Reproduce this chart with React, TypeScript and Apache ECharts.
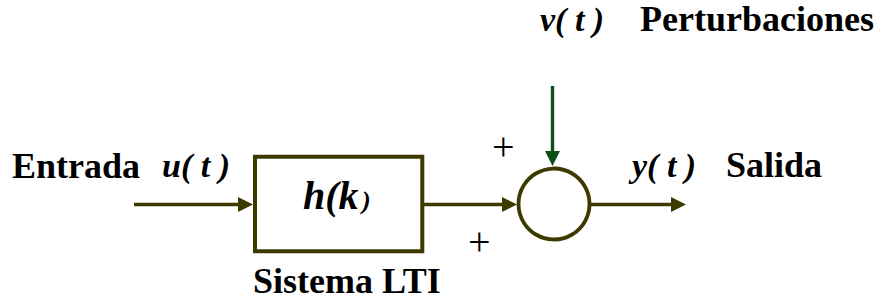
import React, { useEffect, useRef } from "react";
import * as echarts from "echarts";

// Texts of the block diagram
const inputLabels = ["Entrada", "u( t )"];
const systemLabels = ["h(k", ")", "Sistema LTI"];
const disturbanceLabels = ["v( t )", "Perturbaciones"];
const outputLabels = ["y( t )", "Salida"];
const signLabels = ["+", "+"];

const OLIVE = "#3d3a00";
const GREEN = "#0c4f18";
const FAMILY = "Liberation Serif";

// baseline-positioned text (top = baseline - 0.84 * size)
function txt(text: string, x: number, baseline: number, size: number, bold: boolean, italic: boolean) {
  const style: any = {
    text,
    fontSize: size,
    fontFamily: FAMILY,
    fontWeight: bold ? "bold" : "normal",
    fill: "#000",
  };
  if (italic) style.fontStyle = "italic";
  return { type: "text", x, y: baseline - 0.84 * size, style };
}

function line(x1: number, y1: number, x2: number, y2: number, color: string, w = 3.6) {
  return {
    type: "line",
    shape: { x1, y1, x2, y2 },
    style: { stroke: color, lineWidth: w },
  };
}

function arrowRight(tipX: number, y: number, color: string) {
  return {
    type: "polygon",
    shape: { points: [[tipX, y], [tipX - 15, y - 7.5], [tipX - 15, y + 7.5]] },
    style: { fill: color },
  };
}

function arrowDown(x: number, tipY: number, color: string) {
  return {
    type: "polygon",
    shape: { points: [[x, tipY], [x - 7.5, tipY - 15], [x + 7.5, tipY - 15]] },
    style: { fill: color },
  };
}

export default function App() {
  const ref = useRef<HTMLDivElement>(null);
  useEffect(() => {
    document.body.style.margin = "0";
    const chart = echarts.init(ref.current!, undefined, { renderer: "svg" });
    const yMain = 204.5;
    const cx = 554, cy = 204, r = 35.5;
    chart.setOption({
      animation: false,
      graphic: [
        txt(inputLabels[0], 12, 178, 36, true, false),
        txt(inputLabels[1], 162, 177, 34, true, true),
        txt(systemLabels[0], 303, 209, 40, true, true),
        txt(systemLabels[1], 362, 209, 26, true, true),
        txt(systemLabels[2], 253, 293, 36, true, false),
        txt(disturbanceLabels[0], 540, 31, 34, true, true),
        txt(disturbanceLabels[1], 640, 31, 36, true, false),
        txt(outputLabels[0], 632, 177, 34, true, true),
        txt(outputLabels[1], 726, 177, 36, true, false),
        txt(signLabels[0], 492, 160, 40, false, false),
        txt(signLabels[1], 468, 255, 40, false, false),
        line(134, yMain, 240, yMain, OLIVE),
        arrowRight(253, yMain, OLIVE),
        {
          type: "rect",
          shape: { x: 255, y: 156.7, width: 167.3, height: 94.6 },
          style: { fill: "none", stroke: OLIVE, lineWidth: 4 },
        },
        line(424, yMain, 505, yMain, OLIVE),
        arrowRight(517, yMain, OLIVE),
        {
          type: "circle",
          shape: { cx, cy, r },
          style: { fill: "none", stroke: OLIVE, lineWidth: 3.8 },
        },
        line(591, yMain, 674, yMain, OLIVE),
        arrowRight(686, yMain, OLIVE),
        line(552.5, 86, 552.5, 155, GREEN, 3.4),
        arrowDown(552.5, 166, GREEN),
      ],
    });
    return () => chart.dispose();
  }, []);
  return <div ref={ref} style={{ width: 880, height: 302 }} />;
}
